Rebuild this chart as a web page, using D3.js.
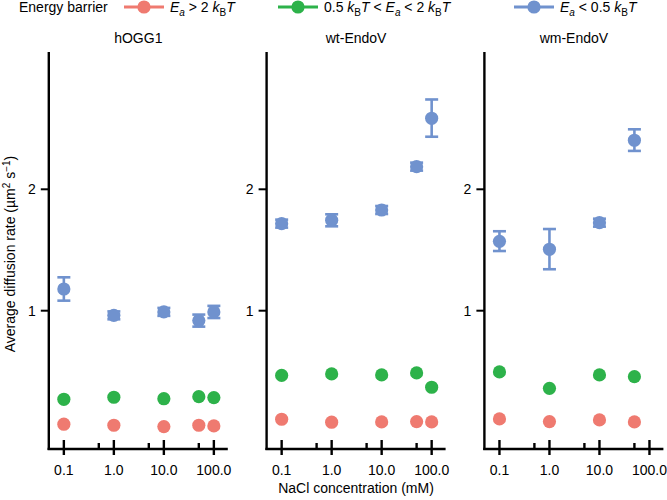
<!DOCTYPE html>
<html><head><meta charset="utf-8">
<script src="https://cdn.jsdelivr.net/npm/d3@7"></script>
<style>
body{margin:0;background:#fff;}
text{font-family:"Liberation Sans",Arial,Helvetica,sans-serif;fill:#000;}
</style></head>
<body><svg id="c" width="667" height="500"></svg>
<script>
// ---- data ----
const panelNames = ["hOGG1", "wt-EndoV", "wm-EndoV"];
const concByPanel = [[0.1, 1, 10, 50, 100], [0.1, 1, 10, 50, 100], [0.1, 1, 10, 50]];
const xTickValues = [0.1, 1, 10, 100];
const xTickLabels = ["0.1", "1.0", "10.0", "100.0"];
const xMinorTicks = [0.5, 5, 50];
const yTickValues = [1, 2];
const yTickLabels = ["1", "2"];

// Ea > 2 kBT (red)
const redValues = [[0.523, 0.520, 0.516, 0.520, 0.518], [0.538, 0.529, 0.530, 0.531, 0.530], [0.539, 0.531, 0.536, 0.530]];
// 0.5 kBT < Ea < 2 kBT (green)
const greenValues = [[0.603, 0.610, 0.605, 0.612, 0.609], [0.691, 0.697, 0.693, 0.701, 0.646], [0.705, 0.642, 0.693, 0.686]];
// Ea < 0.5 kBT (blue) with error bars
const blueValues = [[1.132, 0.974, 0.993, 0.945, 0.993], [1.644, 1.676, 1.777, 2.276, 3.00], [1.486, 1.420, 1.653, 2.646]];
const blueLow = [[1.059, 0.952, 0.971, 0.913, 0.959], [1.607, 1.619, 1.737, 2.225, 2.70], [1.406, 1.267, 1.616, 2.49]];
const blueHigh = [[1.210, 0.996, 1.016, 0.978, 1.028], [1.682, 1.734, 1.818, 2.329, 3.34], [1.574, 1.594, 1.691, 2.817]];

const colors = {red: "#EF7A70", green: "#2DB24A", blue: "#7092CE"};

// ---- layout ----
const svg = d3.select("#c");
const panelLeft = [48.8, 266.6, 484.4];
const panelW = 179;
const yTop = 52, yBottom = 449;

const y = d3.scaleLog().domain([0.454, 4.38]).range([yBottom, yTop]);
const x = d3.scaleLog().domain([0.05, 190]).range([0, panelW]);

panelNames.forEach((name, p) => {
  const g = svg.append("g").attr("transform", `translate(${panelLeft[p]},0)`);
  // title
  g.append("text").attr("x", panelW / 2).attr("y", 42.5).attr("text-anchor", "middle")
    .style("font-size", "14px").text(name);
  // axes lines
  g.append("line").attr("x1", 0).attr("x2", 0).attr("y1", yTop).attr("y2", yBottom + 1)
    .attr("stroke", "#000").attr("stroke-width", 2.4);
  g.append("line").attr("x1", -1.2).attr("x2", panelW).attr("y1", yBottom).attr("y2", yBottom)
    .attr("stroke", "#000").attr("stroke-width", 2.4);
  // y ticks
  yTickValues.forEach((v, i) => {
    g.append("line").attr("x1", -8).attr("x2", 0).attr("y1", y(v)).attr("y2", y(v))
      .attr("stroke", "#000").attr("stroke-width", 2);
    g.append("text").attr("x", -13).attr("y", y(v)).attr("dy", "0.36em").attr("text-anchor", "end")
      .style("font-size", "14px").text(yTickLabels[i]);
  });
  // x ticks
  xTickValues.forEach((v, i) => {
    g.append("line").attr("x1", x(v)).attr("x2", x(v)).attr("y1", 440).attr("y2", 455)
      .attr("stroke", "#000").attr("stroke-width", 2.4);
    g.append("text").attr("x", x(v)).attr("y", 475).attr("text-anchor", "middle")
      .style("font-size", "14px").text(xTickLabels[i]);
  });
  xMinorTicks.forEach(v => {
    g.append("line").attr("x1", x(v)).attr("x2", x(v)).attr("y1", 443).attr("y2", yBottom)
      .attr("stroke", "#000").attr("stroke-width", 2.4);
  });
  const conc = concByPanel[p];
  // error bars (blue)
  conc.forEach((c, i) => {
    const cx = x(c), y1 = y(blueLow[p][i]), y2 = y(blueHigh[p][i]);
    g.append("line").attr("x1", cx).attr("x2", cx).attr("y1", y1).attr("y2", y2)
      .attr("stroke", colors.blue).attr("stroke-width", 2.6);
    [y1, y2].forEach(yy => g.append("line").attr("x1", cx - 6.5).attr("x2", cx + 6.5)
      .attr("y1", yy).attr("y2", yy).attr("stroke", colors.blue).attr("stroke-width", 2.6));
  });
  // points
  [[redValues, colors.red], [greenValues, colors.green], [blueValues, colors.blue]].forEach(([vals, col]) => {
    g.selectAll(null).data(conc.map((c, i) => ({c, v: vals[p][i]}))).enter().append("circle")
      .attr("cx", d => x(d.c)).attr("cy", d => y(d.v)).attr("r", 6.6).attr("fill", col);
  });
});

// axis titles
svg.append("text").attr("x", 356).attr("y", 493).attr("text-anchor", "middle")
  .style("font-size", "14px").text("NaCl concentration (mM)");
const yt = svg.append("text").attr("transform", "translate(15,254) rotate(-90)").attr("text-anchor", "middle")
  .style("font-size", "14px");
yt.append("tspan").text("Average diffusion rate (\u00b5m");
yt.append("tspan").attr("dy", -5).style("font-size", "10px").text("2");
yt.append("tspan").attr("dy", 5).text(" s");
yt.append("tspan").attr("dy", -5).style("font-size", "10px").text("\u22121");
yt.append("tspan").attr("dy", 5).text(")");

// legend
const ly = 7;
const lg = svg.append("g").style("font-size", "14px");
lg.append("text").attr("x", 19).attr("y", ly).attr("dy", "0.36em").text("Energy barrier");
const legendItems = [
  {col: colors.red, x0: 124, parts: [["E", "i"], ["a", "is"], [" > 2 ", ""], ["k", "i"], ["B", "s"], ["T", "i"]]},
  {col: colors.green, x0: 278, parts: [["0.5 ", ""], ["k", "i"], ["B", "s"], ["T", "i"], [" < ", ""], ["E", "i"], ["a", "is"], [" < 2 ", ""], ["k", "i"], ["B", "s"], ["T", "i"]]},
  {col: colors.blue, x0: 514, parts: [["E", "i"], ["a", "is"], [" < 0.5 ", ""], ["k", "i"], ["B", "s"], ["T", "i"]]}
];
legendItems.forEach(it => {
  lg.append("line").attr("x1", it.x0).attr("x2", it.x0 + 40).attr("y1", ly).attr("y2", ly)
    .attr("stroke", it.col).attr("stroke-width", 3.2);
  lg.append("circle").attr("cx", it.x0 + 20).attr("cy", ly).attr("r", 6.6).attr("fill", it.col);
  const t = lg.append("text").attr("x", it.x0 + 46).attr("y", ly).attr("dy", "0.36em").attr("xml:space", "preserve");
  let sub = false;
  it.parts.forEach(([s, f]) => {
    const isSub = f.includes("s");
    const ts = t.append("tspan").text(s);
    if (f.includes("i")) ts.style("font-style", "italic");
    if (isSub && !sub) { ts.attr("dy", 4).style("font-size", "10px"); sub = true; }
    else if (!isSub && sub) { ts.attr("dy", -4); sub = false; }
    if (isSub) ts.style("font-size", "10px");
  });
});
</script></body></html>
